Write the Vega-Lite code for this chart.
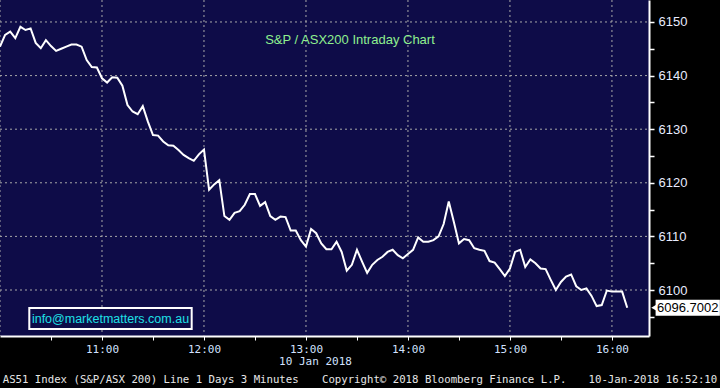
{
  "$schema": "https://vega.github.io/schema/vega-lite/v6.json",
  "width": 649,
  "height": 336,
  "autosize": {"type": "none"},
  "padding": {"left": 0, "top": 0, "right": 71, "bottom": 52},
  "background": "#000000",
  "config": {"view": {"fill": "#0e0c48", "stroke": null}},
  "encoding": {
    "x": {
      "field": "t",
      "type": "temporal",
      "scale": {
        "domain": [
          {"year": 2018, "month": 1, "date": 10, "hours": 10, "minutes": 0},
          {"year": 2018, "month": 1, "date": 10, "hours": 16, "minutes": 21, "seconds": 48}
        ],
        "nice": false
      },
      "axis": {
        "title": null,
        "format": "%H:%M",
        "values": [
          {"year": 2018, "month": 1, "date": 10, "hours": 10, "minutes": 30},
          {"year": 2018, "month": 1, "date": 10, "hours": 11, "minutes": 0},
          {"year": 2018, "month": 1, "date": 10, "hours": 11, "minutes": 30},
          {"year": 2018, "month": 1, "date": 10, "hours": 12, "minutes": 0},
          {"year": 2018, "month": 1, "date": 10, "hours": 12, "minutes": 30},
          {"year": 2018, "month": 1, "date": 10, "hours": 13, "minutes": 0},
          {"year": 2018, "month": 1, "date": 10, "hours": 13, "minutes": 30},
          {"year": 2018, "month": 1, "date": 10, "hours": 14, "minutes": 0},
          {"year": 2018, "month": 1, "date": 10, "hours": 14, "minutes": 30},
          {"year": 2018, "month": 1, "date": 10, "hours": 15, "minutes": 0},
          {"year": 2018, "month": 1, "date": 10, "hours": 15, "minutes": 30},
          {"year": 2018, "month": 1, "date": 10, "hours": 16, "minutes": 0}
        ],
        "labelExpr": "indexof(datum.label, ':30') >= 0 ? '' : datum.label",
        "labelFont": "DejaVu Sans Mono",
        "labelFontSize": 11,
        "labelColor": "#d2e2ff",
        "labelPadding": 3,
        "tickSize": 4,
        "tickColor": "#ffffff",
        "domainColor": "#ffffff",
        "domainWidth": 2,
        "grid": false
      }
    },
    "y": {
      "field": "v",
      "type": "quantitative",
      "scale": {"domain": [6091.42, 6154.1], "nice": false, "zero": false},
      "axis": {
        "orient": "right",
        "title": null,
        "values": [6095, 6100, 6105, 6110, 6115, 6120, 6125, 6130, 6135, 6140, 6145, 6150],
        "format": "d",
        "labelExpr": "datum.value % 10 == 0 ? datum.label : ''",
        "labelFont": "Liberation Sans",
        "labelFontSize": 13,
        "labelColor": "#e8ecff",
        "labelPadding": 4,
        "tickColor": "#ffffff",
        "tickSize": 5,
        "tickWidth": 1.5,
        "domainColor": "#ffffff",
        "domainWidth": 2,
        "grid": false
      }
    }
  },
  "layer": [
    {
      "data": {"values": [
        {"t": "2018-01-10T10:00", "v": 6154.1, "v2": 6091.42},
        {"t": "2018-01-10T11:00", "v": 6154.1, "v2": 6091.42},
        {"t": "2018-01-10T12:00", "v": 6154.1, "v2": 6091.42},
        {"t": "2018-01-10T13:00", "v": 6154.1, "v2": 6091.42},
        {"t": "2018-01-10T14:00", "v": 6154.1, "v2": 6091.42},
        {"t": "2018-01-10T15:00", "v": 6154.1, "v2": 6091.42},
        {"t": "2018-01-10T16:00", "v": 6154.1, "v2": 6091.42}
      ]},
      "mark": {"type": "rule", "color": "#a8a8a8", "strokeWidth": 1, "strokeDash": [2, 3]},
      "encoding": {"y2": {"field": "v2"}}
    },
    {
      "data": {"values": [
        {"t": "2018-01-10T10:00", "t2": "2018-01-10T16:21:48", "v": 6100},
        {"t": "2018-01-10T10:00", "t2": "2018-01-10T16:21:48", "v": 6110},
        {"t": "2018-01-10T10:00", "t2": "2018-01-10T16:21:48", "v": 6120},
        {"t": "2018-01-10T10:00", "t2": "2018-01-10T16:21:48", "v": 6130},
        {"t": "2018-01-10T10:00", "t2": "2018-01-10T16:21:48", "v": 6140},
        {"t": "2018-01-10T10:00", "t2": "2018-01-10T16:21:48", "v": 6150}
      ]},
      "mark": {"type": "rule", "color": "#a8a8a8", "strokeWidth": 1, "strokeDash": [2, 3]},
      "encoding": {"x2": {"field": "t2"}}
    },
    {
      "data": {"values": [{"t": "2018-01-10T10:17:14", "t2": "2018-01-10T11:52:46", "v": 6096.64, "v2": 6092.72}]},
      "mark": {"type": "rect", "fill": "#0e0c48", "stroke": "#ffffff", "strokeWidth": 2},
      "encoding": {"x2": {"field": "t2"}, "y2": {"field": "v2"}}
    },
    {
      "data": {"values": [
        {"t": "2018-01-10T10:00", "v": 6145.4},
        {"t": "2018-01-10T10:03", "v": 6147.6},
        {"t": "2018-01-10T10:06", "v": 6148.2},
        {"t": "2018-01-10T10:09", "v": 6147.0},
        {"t": "2018-01-10T10:12", "v": 6149.1},
        {"t": "2018-01-10T10:15", "v": 6148.5},
        {"t": "2018-01-10T10:18", "v": 6148.8},
        {"t": "2018-01-10T10:21", "v": 6146.1},
        {"t": "2018-01-10T10:24", "v": 6145.1},
        {"t": "2018-01-10T10:27", "v": 6146.6},
        {"t": "2018-01-10T10:30", "v": 6145.5},
        {"t": "2018-01-10T10:33", "v": 6144.6},
        {"t": "2018-01-10T10:36", "v": 6145.0},
        {"t": "2018-01-10T10:39", "v": 6145.4},
        {"t": "2018-01-10T10:42", "v": 6145.8},
        {"t": "2018-01-10T10:45", "v": 6145.8},
        {"t": "2018-01-10T10:48", "v": 6145.4},
        {"t": "2018-01-10T10:51", "v": 6142.9},
        {"t": "2018-01-10T10:54", "v": 6141.6},
        {"t": "2018-01-10T10:57", "v": 6141.5},
        {"t": "2018-01-10T11:00", "v": 6139.5},
        {"t": "2018-01-10T11:03", "v": 6138.7},
        {"t": "2018-01-10T11:06", "v": 6139.7},
        {"t": "2018-01-10T11:09", "v": 6139.6},
        {"t": "2018-01-10T11:12", "v": 6138.1},
        {"t": "2018-01-10T11:15", "v": 6134.5},
        {"t": "2018-01-10T11:18", "v": 6133.3},
        {"t": "2018-01-10T11:21", "v": 6132.8},
        {"t": "2018-01-10T11:24", "v": 6134.3},
        {"t": "2018-01-10T11:27", "v": 6131.4},
        {"t": "2018-01-10T11:30", "v": 6128.9},
        {"t": "2018-01-10T11:33", "v": 6128.8},
        {"t": "2018-01-10T11:36", "v": 6127.7},
        {"t": "2018-01-10T11:39", "v": 6127.0},
        {"t": "2018-01-10T11:42", "v": 6126.9},
        {"t": "2018-01-10T11:45", "v": 6126.1},
        {"t": "2018-01-10T11:48", "v": 6125.2},
        {"t": "2018-01-10T11:51", "v": 6124.6},
        {"t": "2018-01-10T11:54", "v": 6124.1},
        {"t": "2018-01-10T11:57", "v": 6125.3},
        {"t": "2018-01-10T12:00", "v": 6126.2},
        {"t": "2018-01-10T12:03", "v": 6118.7},
        {"t": "2018-01-10T12:06", "v": 6119.7},
        {"t": "2018-01-10T12:09", "v": 6120.5},
        {"t": "2018-01-10T12:12", "v": 6113.8},
        {"t": "2018-01-10T12:15", "v": 6113.1},
        {"t": "2018-01-10T12:18", "v": 6114.4},
        {"t": "2018-01-10T12:21", "v": 6114.7},
        {"t": "2018-01-10T12:24", "v": 6115.9},
        {"t": "2018-01-10T12:27", "v": 6117.9},
        {"t": "2018-01-10T12:30", "v": 6117.9},
        {"t": "2018-01-10T12:33", "v": 6115.7},
        {"t": "2018-01-10T12:36", "v": 6116.4},
        {"t": "2018-01-10T12:39", "v": 6113.8},
        {"t": "2018-01-10T12:42", "v": 6113.1},
        {"t": "2018-01-10T12:45", "v": 6113.7},
        {"t": "2018-01-10T12:48", "v": 6113.6},
        {"t": "2018-01-10T12:51", "v": 6111.1},
        {"t": "2018-01-10T12:54", "v": 6111.1},
        {"t": "2018-01-10T12:57", "v": 6109.3},
        {"t": "2018-01-10T13:00", "v": 6108.1},
        {"t": "2018-01-10T13:03", "v": 6111.4},
        {"t": "2018-01-10T13:06", "v": 6110.6},
        {"t": "2018-01-10T13:09", "v": 6108.7},
        {"t": "2018-01-10T13:12", "v": 6107.6},
        {"t": "2018-01-10T13:15", "v": 6107.6},
        {"t": "2018-01-10T13:18", "v": 6109.0},
        {"t": "2018-01-10T13:21", "v": 6107.1},
        {"t": "2018-01-10T13:24", "v": 6103.6},
        {"t": "2018-01-10T13:27", "v": 6104.7},
        {"t": "2018-01-10T13:30", "v": 6107.5},
        {"t": "2018-01-10T13:33", "v": 6105.3},
        {"t": "2018-01-10T13:36", "v": 6103.2},
        {"t": "2018-01-10T13:39", "v": 6104.7},
        {"t": "2018-01-10T13:42", "v": 6105.6},
        {"t": "2018-01-10T13:45", "v": 6106.2},
        {"t": "2018-01-10T13:48", "v": 6107.1},
        {"t": "2018-01-10T13:51", "v": 6107.5},
        {"t": "2018-01-10T13:54", "v": 6106.5},
        {"t": "2018-01-10T13:57", "v": 6105.9},
        {"t": "2018-01-10T14:00", "v": 6106.7},
        {"t": "2018-01-10T14:03", "v": 6107.5},
        {"t": "2018-01-10T14:06", "v": 6109.8},
        {"t": "2018-01-10T14:09", "v": 6109.0},
        {"t": "2018-01-10T14:12", "v": 6109.0},
        {"t": "2018-01-10T14:15", "v": 6109.3},
        {"t": "2018-01-10T14:18", "v": 6110.0},
        {"t": "2018-01-10T14:21", "v": 6112.3},
        {"t": "2018-01-10T14:24", "v": 6116.5},
        {"t": "2018-01-10T14:27", "v": 6112.7},
        {"t": "2018-01-10T14:30", "v": 6108.7},
        {"t": "2018-01-10T14:33", "v": 6109.5},
        {"t": "2018-01-10T14:36", "v": 6109.3},
        {"t": "2018-01-10T14:39", "v": 6107.8},
        {"t": "2018-01-10T14:42", "v": 6107.5},
        {"t": "2018-01-10T14:45", "v": 6107.3},
        {"t": "2018-01-10T14:48", "v": 6105.4},
        {"t": "2018-01-10T14:51", "v": 6105.1},
        {"t": "2018-01-10T14:54", "v": 6103.9},
        {"t": "2018-01-10T14:57", "v": 6102.6},
        {"t": "2018-01-10T15:00", "v": 6104.0},
        {"t": "2018-01-10T15:03", "v": 6107.1},
        {"t": "2018-01-10T15:06", "v": 6107.5},
        {"t": "2018-01-10T15:09", "v": 6104.3},
        {"t": "2018-01-10T15:12", "v": 6105.7},
        {"t": "2018-01-10T15:15", "v": 6105.0},
        {"t": "2018-01-10T15:18", "v": 6104.0},
        {"t": "2018-01-10T15:21", "v": 6103.9},
        {"t": "2018-01-10T15:24", "v": 6101.9},
        {"t": "2018-01-10T15:27", "v": 6100.0},
        {"t": "2018-01-10T15:30", "v": 6101.5},
        {"t": "2018-01-10T15:33", "v": 6102.5},
        {"t": "2018-01-10T15:36", "v": 6102.9},
        {"t": "2018-01-10T15:39", "v": 6100.7},
        {"t": "2018-01-10T15:42", "v": 6100.0},
        {"t": "2018-01-10T15:45", "v": 6100.3},
        {"t": "2018-01-10T15:48", "v": 6098.9},
        {"t": "2018-01-10T15:51", "v": 6097.0},
        {"t": "2018-01-10T15:54", "v": 6097.2},
        {"t": "2018-01-10T15:57", "v": 6099.9},
        {"t": "2018-01-10T16:00", "v": 6099.7},
        {"t": "2018-01-10T16:03", "v": 6099.7},
        {"t": "2018-01-10T16:06", "v": 6099.7},
        {"t": "2018-01-10T16:09", "v": 6096.7}
      ]},
      "mark": {"type": "line", "color": "#ffffff", "strokeWidth": 2}
    },
    {
      "data": {"values": [{"t": "2018-01-10T13:25:54", "v": 6146.64, "label": "S&P / ASX200 Intraday Chart"}]},
      "mark": {"type": "text", "font": "Liberation Sans", "fontSize": 13, "color": "#8ff08f", "align": "center", "baseline": "middle"},
      "encoding": {"text": {"field": "label"}}
    },
    {
      "data": {"values": [{"t": "2018-01-10T11:05:00", "v": 6094.68, "label": "info@marketmatters.com.au"}]},
      "mark": {"type": "text", "font": "Liberation Sans", "fontSize": 12.5, "color": "#1ee0e6", "align": "center", "baseline": "middle"},
      "encoding": {"text": {"field": "label"}}
    },
    {
      "data": {"values": [{"t": "2018-01-10T16:25:41", "t2": "2018-01-10T17:03:30", "v": 6098.2, "v2": 6095.2}]},
      "mark": {"type": "rect", "fill": "#ffffff"},
      "encoding": {"x2": {"field": "t2"}, "y2": {"field": "v2"}}
    },
    {
      "data": {"values": [{"t": "2018-01-10T16:24:50", "v": 6096.7}]},
      "mark": {"type": "point", "shape": "triangle-left", "size": 45, "filled": true, "fill": "#ffffff", "opacity": 1}
    },
    {
      "data": {"values": [{"t": "2018-01-10T16:26:30", "v": 6096.7, "label": "6096.7002"}]},
      "mark": {"type": "text", "font": "Liberation Sans", "fontSize": 13, "color": "#000000", "align": "left", "baseline": "middle"},
      "encoding": {"text": {"field": "label"}}
    },
    {
      "data": {"values": [{"t": "2018-01-10T13:05:36", "v": 6086.57, "label": "10 Jan 2018"}]},
      "mark": {"type": "text", "font": "DejaVu Sans Mono", "fontSize": 11, "color": "#d2e2ff", "align": "center", "baseline": "middle"},
      "encoding": {"text": {"field": "label"}}
    },
    {
      "data": {"values": [
        {"t": "2018-01-10T10:01:35", "v": 6083.21, "label": "AS51 Index (S&P/ASX 200) Line 1 Days 3 Minutes"},
        {"t": "2018-01-10T13:09:24", "v": 6083.21, "label": "Copyright© 2018 Bloomberg Finance L.P."}
      ]},
      "mark": {"type": "text", "font": "DejaVu Sans Mono", "fontSize": 10.7, "color": "#e6e6e6", "align": "left", "baseline": "middle"},
      "encoding": {"text": {"field": "label"}}
    },
    {
      "data": {"values": [{"t": "2018-01-10T17:01:56", "v": 6083.21, "label": "10-Jan-2018 16:52:10"}]},
      "mark": {"type": "text", "font": "DejaVu Sans Mono", "fontSize": 10.7, "color": "#e6e6e6", "align": "right", "baseline": "middle"},
      "encoding": {"text": {"field": "label"}}
    }
  ]
}
